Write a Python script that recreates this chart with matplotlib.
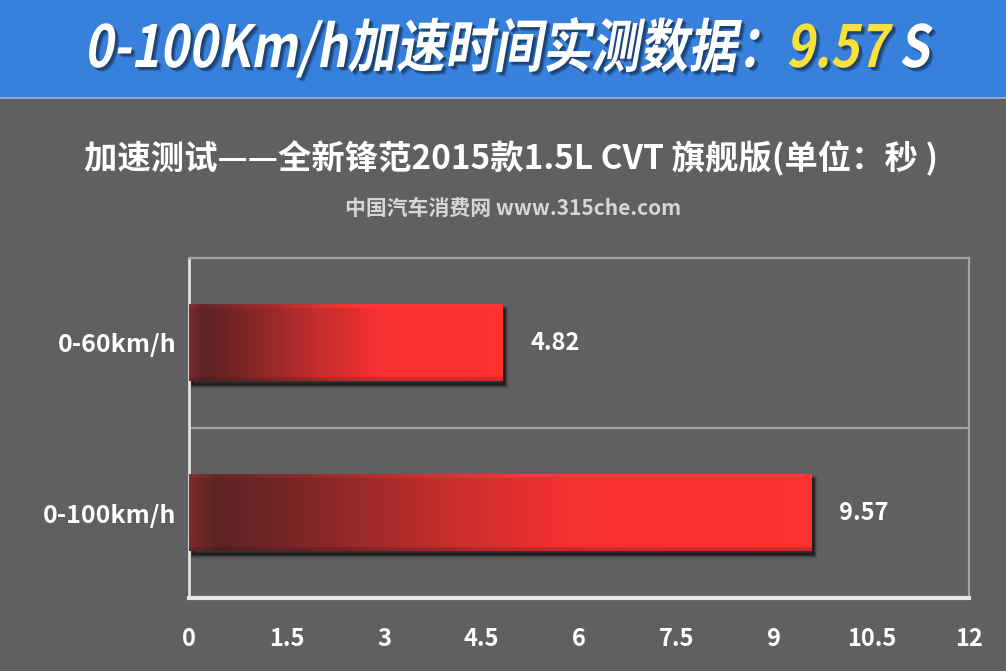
import numpy as np
import matplotlib
matplotlib.use("Agg")
import matplotlib.pyplot as plt
from matplotlib.colors import LinearSegmentedColormap
from matplotlib.patches import Rectangle, PathPatch
from matplotlib.textpath import TextPath, TextToPath
from matplotlib.font_manager import FontProperties
from matplotlib.transforms import Affine2D, ScaledTranslation

plt.rcParams['font.family'] = ['Noto Sans CJK SC', 'DejaVu Sans']

# ---- data ----
categories = ['0-60km/h', '0-100km/h']
values = [4.82, 9.57]
x_ticks = [0, 1.5, 3, 4.5, 6, 7.5, 9, 10.5, 12]
x_tick_labels = ['0', '1.5', '3', '4.5', '6', '7.5', '9', '10.5', '12']
header_parts = [("0-100Km/h加速时间实测数据：", 'white'), ("9.57", '#f8e13c'), (" S", 'white')]
subtitle = '加速测试——全新锋范2015款1.5L CVT 旗舰版(单位：秒 )'
watermark = '中国汽车消费网 www.315che.com'

W, H = 1006, 671
BG = '#605f61'
fig = plt.figure(figsize=(W / 100, H / 100), dpi=100, facecolor=BG)

# overlay axes in pixel coordinates (y up)
ov = fig.add_axes([0, 0, 1, 1])
ov.set_xlim(0, W)
ov.set_ylim(0, H)
ov.axis('off')
ov.add_patch(Rectangle((0, H - 97), W, 97, color='#3780dc', lw=0))
ov.add_patch(Rectangle((0, H - 99), W, 2, color='#8aa9d2', lw=0))

# header text as skewed paths
fp = FontProperties(family='Noto Sans CJK SC', weight='bold', size=58)
t2p = TextToPath()
widths = [t2p.get_text_width_height_descent(s, fp, ismath=False)[0] for s, _ in header_parts]
total = sum(widths)
target_w = 845.0
sx = target_w / total
x0 = 84.0
base_y = H - 67
skew = Affine2D().skew_deg(10, 0)
xc = 0.0
for (s, col), w in zip(header_parts, widths):
    p = TextPath((xc, 0), s, prop=fp)
    tr = Affine2D().scale(sx, 1.0) + skew + Affine2D().translate(x0, base_y)
    for dx, dy, a in [(4, -4, 0.25), (3, -3, 0.35), (2, -2, 0.35)]:
        ov.add_patch(PathPatch(p, facecolor='#102848', edgecolor='none', alpha=a,
                               transform=tr + Affine2D().translate(dx, dy) + ov.transData))
    ov.add_patch(PathPatch(p, facecolor=col, edgecolor='none', transform=tr + ov.transData))
    xc += w

fig.text(511 / W, 1 - 158 / H, subtitle, ha='center', va='center', fontsize=24,
         fontweight='bold', color='white')
fig.text(513 / W, 1 - 208 / H, watermark, ha='center', va='center', fontsize=15,
         fontweight='bold', color='#d6d6d6')

# ---- main axes ----
ax = fig.add_axes([189 / W, 73 / H, 780 / W, 340 / H])
ax.set_facecolor('none')

cmap = LinearSegmentedColormap.from_list('barg', [
    (0.0, '#7a2c2c'), (0.04, '#5c2323'), (0.2, '#842727'),
    (0.4, '#c22d2d'), (0.6, '#f53030'), (1.0, '#ff3131')])
bar_h = 0.45
ypos = np.arange(len(categories))
nrow = 40
lin = np.linspace(0, 1, 300)
for y, v in zip(ypos, values):
    sh_tr = ax.transData + ScaledTranslation(3 / 100, -4 / 100, fig.dpi_scale_trans)
    for k, a in [(3, 0.12), (2, 0.18), (1, 0.25)]:
        ax.add_patch(Rectangle((0, y - bar_h / 2), v, bar_h, facecolor='black', alpha=a,
                               lw=k * 1.5, edgecolor=(0, 0, 0, a), transform=sh_tr, zorder=2))
    rgb = cmap(lin)[:, :3][None, :, :].repeat(nrow, axis=0)
    vert = np.ones(nrow)
    vert[0:2] = 1.12
    vert[-2:] = 0.85
    img = np.clip(rgb * vert[:, None, None], 0, 1)
    ax.imshow(img, extent=[0, v, y + bar_h / 2, y - bar_h / 2], origin='upper',
              aspect='auto', interpolation='bilinear', zorder=3)
    ax.annotate(f'{v:.2f}', xy=(v, y), xytext=(20, 0), textcoords='offset points',
                ha='left', va='center', fontsize=17, fontweight='bold', color='white')

ax.set_xlim(0, 12)
ax.set_ylim(len(categories) - 0.5, -0.5)
ax.set_xticks(x_ticks)
ax.set_xticklabels(x_tick_labels)
ax.set_yticks(ypos)
ax.set_yticklabels(categories)
for lab in ax.get_xticklabels():
    lab.set_fontweight('bold')
    lab.set_color('white')
    lab.set_fontsize(17)
for lab in ax.get_yticklabels():
    lab.set_fontweight('bold')
    lab.set_color('white')
    lab.set_fontsize(18)
ax.tick_params(axis='x', length=0, pad=21)
ax.tick_params(axis='y', length=0, pad=9)

ax.axhline(0.5, color='#a4a4a4', lw=1.6, zorder=1)
ax.spines['top'].set_color('#a4a4a4')
ax.spines['top'].set_linewidth(1.6)
ax.spines['right'].set_color('#a4a4a4')
ax.spines['right'].set_linewidth(1.6)
ax.spines['left'].set_color('#e2e2e2')
ax.spines['left'].set_linewidth(2)
ax.spines['bottom'].set_color('#e6e6e6')
ax.spines['bottom'].set_linewidth(3)

fig.savefig('out.png', dpi=100, facecolor=BG)
